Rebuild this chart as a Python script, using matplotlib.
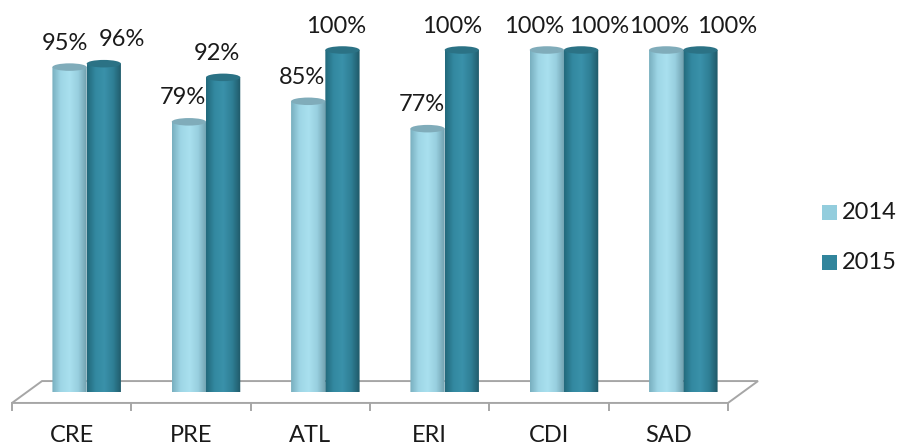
import numpy as np
import matplotlib
matplotlib.use('Agg')
import matplotlib.pyplot as plt
from matplotlib.path import Path
from matplotlib.patches import PathPatch, Ellipse, Polygon, Rectangle
from matplotlib.colors import LinearSegmentedColormap

plt.rcParams['font.family'] = ['Lato', 'DejaVu Sans']

categories = ['CRE', 'PRE', 'ATL', 'ERI', 'CDI', 'SAD']
years = ['2014', '2015']
vals_2014 = [95, 79, 85, 77, 100, 100]
vals_2015 = [96, 92, 100, 100, 100, 100]

# label nudges (in category units) where the value labels would collide
nudge_2014 = [-0.04, -0.05, -0.05, -0.05, -0.11, -0.06]
nudge_2015 = [0.15, -0.05, -0.05, -0.08, 0.15, 0.22]

legend_colors = ['#93CDDD', '#31859C']
body_cmaps = [
    LinearSegmentedColormap.from_list('light', ['#78AEBE', '#9ED6E6', '#A9E0EF', '#98CFDF', '#6F9FAD']),
    LinearSegmentedColormap.from_list('dark', ['#22687A', '#3389A1', '#3A91AA', '#2F7F95', '#1F5867']),
]
top_colors = ['#80ACBA', '#2B7285']
fs = 17

fig = plt.figure(figsize=(9, 4.45), dpi=100)
# plot area: x in categories, y in percent
ax = fig.add_axes([12/900, (445-392)/445, (728-12)/900, 342/445])
ax.set_xlim(0, 6)
ax.set_ylim(0, 100)
ax.axis('off')

depth_x, depth_y = 0.2515, 3.2
w = 0.287
ry = 1.1

# floor
floor = Polygon([(0, -depth_y), (6, -depth_y), (6 + depth_x, depth_y), (depth_x, depth_y)],
                closed=True, facecolor='white', edgecolor='#A6A6A6', lw=1.4,
                clip_on=False, zorder=1)
ax.add_patch(floor)
for i in range(7):
    ax.plot([i, i], [-depth_y, -5.4], color='#A6A6A6', lw=1.4, clip_on=False, zorder=1)

grad = np.linspace(0, 1, 256).reshape(1, -1)


def cylinder(xc, v, k):
    x0, x1 = xc - w/2, xc + w/2
    t = np.linspace(np.pi, 2*np.pi, 60)
    bx = xc + w/2*np.cos(t)
    by = ry*np.sin(t)
    verts = [(x0, v)] + list(zip(bx, by)) + [(x1, v), (x0, v)]
    codes = [Path.MOVETO] + [Path.LINETO]*(len(verts) - 2) + [Path.CLOSEPOLY]
    body = PathPatch(Path(verts, codes), facecolor='none', edgecolor='none', clip_on=False)
    ax.add_patch(body)
    im = ax.imshow(grad, cmap=body_cmaps[k], extent=(x0, x1, -ry, v), aspect='auto',
                   origin='lower', zorder=2 + k)
    im.set_clip_path(body)
    ax.add_patch(Ellipse((xc, v), w, 2*ry, facecolor=top_colors[k], edgecolor='none',
                         zorder=2.5 + k, clip_on=False))


for i, cat in enumerate(categories):
    c = i + 0.5 + depth_x/2
    for k, (vals, nud) in enumerate([(vals_2014, nudge_2014), (vals_2015, nudge_2015)]):
        xc = c + (k - 0.5)*w
        v = vals[i]
        cylinder(xc, v, k)
        ax.text(xc + nud[i], v + 7.0, f'{v}%', ha='center', va='center',
                fontsize=fs, color='#1A1A1A', zorder=6, clip_on=False)
    ax.text(i + 0.5, -12.6, cat, ha='center', va='center', fontsize=fs,
            color='#1A1A1A', clip_on=False)

ax.set_xlim(0, 6)
ax.set_ylim(0, 100)

# legend
for k, (yr, yb) in enumerate(zip(years, [205, 255])):
    fig.patches.append(Rectangle((822/900, (445 - yb - 15)/445), 15/900, 15/445,
                                 facecolor=legend_colors[k], edgecolor='none',
                                 transform=fig.transFigure, figure=fig))
    fig.text(842/900, (445 - yb - 7.5)/445, yr, ha='left', va='center',
             fontsize=fs, color='#1A1A1A')

fig.savefig('out.png', dpi=100)
